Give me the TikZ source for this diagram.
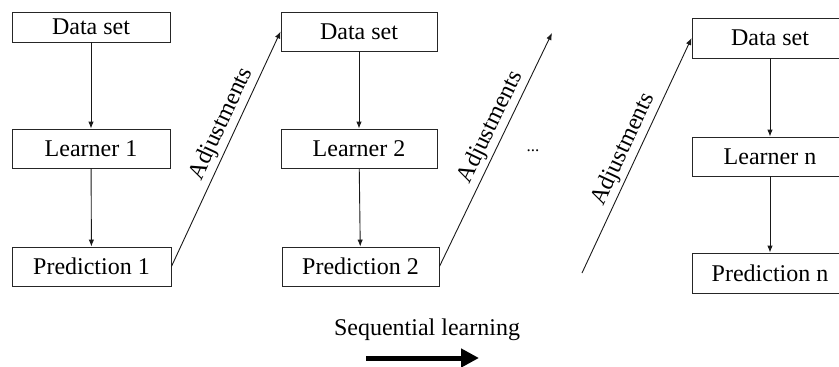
\documentclass[tikz,border=0pt]{standalone}
\usepackage{fontspec}
\setmainfont{Liberation Serif}
\usetikzlibrary{arrows.meta}
\begin{document}
\begin{tikzpicture}[x=1pt,y=-1pt,
  box/.style={draw=black!85,line width=0.9pt,inner sep=0pt,minimum width=157pt,minimum height=39pt,font=\fontsize{24}{28}\selectfont},
  flow/.style={draw=black!90,line width=0.9pt,-{Latex[length=7pt,width=5.5pt]}},
  adj/.style={sloped,above,inner sep=3pt,font=\fontsize{24}{28}\selectfont}]
\useasboundingbox (0,0) rectangle (839,367);
\clip (0,0) rectangle (839,367);
% column 1
\node[box,minimum width=158pt,minimum height=30pt] (d1) at (91,27) {Data set};
\node[box,minimum width=158pt] (l1) at (91,148.5) {Learner 1};
\node[box,minimum width=159pt] (p1) at (91.5,266.5) {Prediction 1};
% column 2
\node[box,minimum width=156pt] (d2) at (359,31.5) {Data set};
\node[box,minimum width=156pt] (l2) at (359,148.5) {Learner 2};
\node[box,minimum width=157pt] (p2) at (360.5,266.5) {Prediction 2};
% column 3
\node[box,minimum width=156pt,minimum height=40pt] (d3) at (770,38) {Data set};
\node[box,minimum width=156pt] (l3) at (770,156.5) {Learner n};
\node[box,minimum width=156pt,minimum height=40pt] (p3) at (770,273) {Prediction n};
% vertical connectors
\draw[flow] (d1) -- (l1);
\draw[flow] (l1) -- (p1);
\draw[flow] (d2) -- (l2);
\draw[flow] (l2) -- (p2);
\draw[flow] (d3) -- (l3);
\draw[flow] (l3) -- (p3);
% diagonal adjustments
\coordinate (e2) at (552,33);
\coordinate (s3) at (582,273);
\draw[flow] (p1.east) -- node[adj,pos=0.58] {Adjustments} (d2.west);
\draw[flow] (p2.east) -- node[adj,pos=0.57] {Adjustments} (e2);
\draw[flow] (s3) -- node[adj,pos=0.5] {Adjustments} (d3.west);
% dots
\node[font=\fontsize{17}{20}\selectfont] (dots) at (533,151) {...};
% sequential learning
\node[font=\fontsize{24}{28}\selectfont] (seq) at (427,330) {Sequential learning};
\coordinate (a0) at (366,358);
\coordinate (a1) at (479,358);
\draw[line width=5pt,-{Triangle[length=18pt,width=18pt]}] (a0) -- (a1);
\end{tikzpicture}
\end{document}
